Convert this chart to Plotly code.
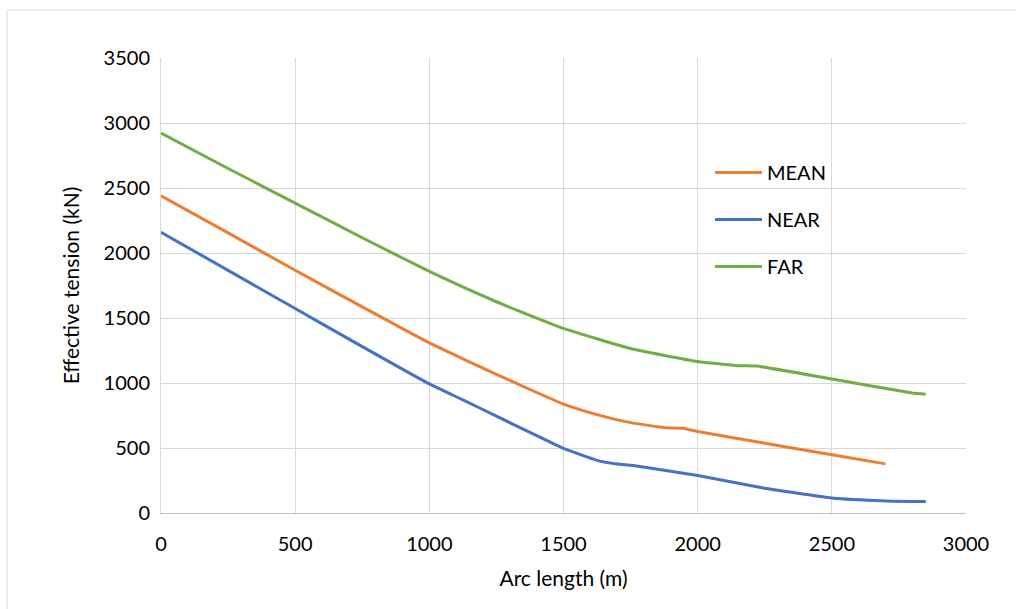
import plotly.graph_objects as go

# Arc length positions (m) and effective tension (kN) for each case
mean_arc = [0, 250, 500, 750, 1000, 1125, 1250, 1375, 1500, 1625, 1750, 1880, 1945, 2000, 2250, 2500, 2700]
mean_tension = [2440, 2155, 1867, 1586, 1308, 1186, 1067, 950, 838, 757, 695, 656, 652, 627, 537, 448, 378]

near_arc = [0, 250, 500, 750, 1000, 1125, 1250, 1375, 1500, 1625, 1700, 1760, 2000, 2245, 2500, 2700, 2850]
near_tension = [2160, 1866, 1573, 1280, 993, 870, 745, 620, 497, 405, 377, 366, 288, 192, 115, 93, 88]

far_arc = [0, 250, 500, 750, 1000, 1250, 1500, 1750, 2000, 2150, 2220, 2500, 2800, 2850]
far_tension = [2922, 2650, 2384, 2117, 1858, 1625, 1420, 1265, 1165, 1133, 1130, 1031, 923, 913]

series = [
    ("MEAN", mean_arc, mean_tension, "#ED7D31"),
    ("NEAR", near_arc, near_tension, "#4472C4"),
    ("FAR", far_arc, far_tension, "#70AD47"),
]

x_ticks = [0, 500, 1000, 1500, 2000, 2500, 3000]
y_ticks = [0, 500, 1000, 1500, 2000, 2500, 3000, 3500]

FONT = "Lato, 'Open Sans', sans-serif"
FS = 20
FS_TITLE = 21

fig = go.Figure()
for name, xs, ys, color in series:
    fig.add_trace(go.Scatter(
        x=xs, y=ys, name=name, mode="lines",
        legendgroup=name,
        line=dict(color=color, width=3, shape="spline", smoothing=0.4),
    ))

W, H = 1016, 609
L, R, T, B = 161, 50, 58, 96
pw, ph = W - L - R, H - T - B

def px_x(p):
    return (p - L) / pw

def px_y(p):
    return (H - B - p) / ph

# Chart-area frame (left and top edges)
frame = dict(type="line", xref="paper", yref="paper", line=dict(color="#D9D9D9", width=1))
fig.add_shape(**frame, x0=px_x(7), x1=px_x(7), y0=px_y(10), y1=px_y(H + 5))
fig.add_shape(**frame, x0=px_x(7), x1=px_x(W + 5), y0=px_y(10), y1=px_y(10))

fig.update_layout(
    width=W, height=H,
    margin=dict(l=L, r=R, t=T, b=B, autoexpand=False),
    paper_bgcolor="white",
    plot_bgcolor="white",
    font=dict(family=FONT, size=FS, color="#000000"),
    showlegend=True,
    legend=dict(
        x=px_x(710), y=px_y(153), xanchor="left", yanchor="top",
        bgcolor="rgba(0,0,0,0)",
        tracegroupgap=18,
        traceorder="grouped",
        font=dict(family=FONT, size=FS, color="#000000"),
        itemwidth=47,
    ),
    xaxis=dict(
        range=[0, 3000],
        tickvals=x_ticks,
        ticktext=[str(v) for v in x_ticks],
        showgrid=True, gridcolor="#D9D9D9", gridwidth=1,
        zeroline=False,
        showline=True, linecolor="#BFBFBF", linewidth=1,
        ticks="", ticklabelstandoff=13,
        title=dict(text="Arc length (m)", standoff=17,
                   font=dict(family=FONT, size=FS_TITLE)),
        automargin=False,
    ),
    yaxis=dict(
        range=[0, 3500],
        tickvals=y_ticks,
        ticktext=[str(v) for v in y_ticks],
        showgrid=True, gridcolor="#D9D9D9", gridwidth=1,
        zeroline=False,
        showline=True, linecolor="#D9D9D9", linewidth=1,
        ticks="", ticklabelstandoff=6,
        title=dict(text="Effective tension (kN)", standoff=18,
                   font=dict(family=FONT, size=FS_TITLE)),
        automargin=False,
    ),
)

fig.write_html("out.html")
